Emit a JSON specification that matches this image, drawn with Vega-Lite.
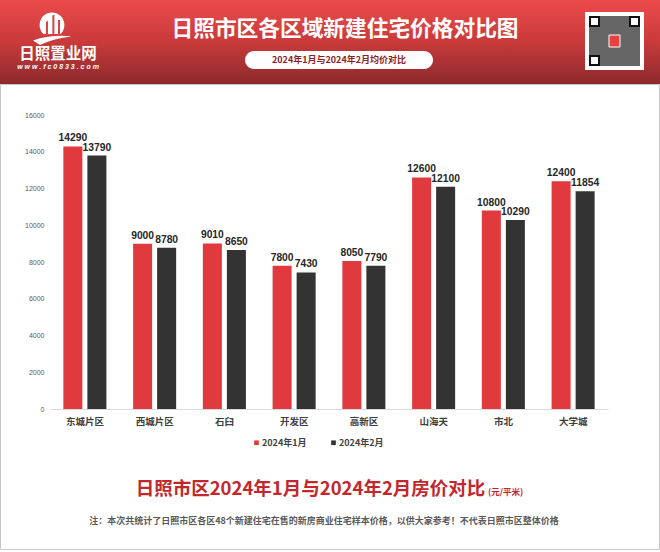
{
  "$schema": "https://vega.github.io/schema/vega-lite/v6.json",
  "width": 558,
  "height": 294,
  "autosize": {"type": "none"},
  "padding": {"left": 50, "top": 115, "right": 52, "bottom": 143},
  "background": "white",
  "config": {"view": {"stroke": null}, "font": "Noto Sans CJK SC", "axis": {"labelOverlap": false}},
  "datasets": {
    "prices": [
      {"district": "东城片区", "month": "2024年1月", "price": 14290},
      {"district": "东城片区", "month": "2024年2月", "price": 13790},
      {"district": "西城片区", "month": "2024年1月", "price": 9000},
      {"district": "西城片区", "month": "2024年2月", "price": 8780},
      {"district": "石臼", "month": "2024年1月", "price": 9010},
      {"district": "石臼", "month": "2024年2月", "price": 8650},
      {"district": "开发区", "month": "2024年1月", "price": 7800},
      {"district": "开发区", "month": "2024年2月", "price": 7430},
      {"district": "高新区", "month": "2024年1月", "price": 8050},
      {"district": "高新区", "month": "2024年2月", "price": 7790},
      {"district": "山海天", "month": "2024年1月", "price": 12600},
      {"district": "山海天", "month": "2024年2月", "price": 12100},
      {"district": "市北", "month": "2024年1月", "price": 10800},
      {"district": "市北", "month": "2024年2月", "price": 10290},
      {"district": "大学城", "month": "2024年1月", "price": 12400},
      {"district": "大学城", "month": "2024年2月", "price": 11854}
    ],
    "one": [{"k": 1}]
  },
  "layer": [
    {
      "data": {"name": "one"},
      "mark": {"type": "rect", "fill": "transparent", "stroke": "#c8c8c8", "strokeWidth": 1},
      "encoding": {"x": {"value": -49.5}, "x2": {"value": 609.5}, "y": {"value": -30.5}, "y2": {"value": 434.5}}
    },
    {
      "data": {"name": "one"},
      "mark": {"type": "rect", "fill": {"gradient": "linear", "x1": 0, "y1": 0, "x2": 0, "y2": 1, "stops": [{"offset": 0, "color": "#ec4b4b"}, {"offset": 0.5, "color": "#c93a3b"}, {"offset": 1, "color": "#8c2a2d"}]}},
      "encoding": {"x": {"value": -50}, "x2": {"value": 610}, "y": {"value": -115}, "y2": {"value": -31}}
    },
    {
      "data": {"name": "one"},
      "mark": {"type": "text", "text": "日照市区各区域新建住宅价格对比图", "align": "center", "baseline": "middle", "fontSize": 21.7, "fontWeight": "bold", "font": "Noto Sans CJK SC", "color": "white"},
      "encoding": {"x": {"value": 295}, "y": {"value": -86}}
    },
    {
      "data": {"name": "one"},
      "mark": {"type": "rect", "fill": "white", "cornerRadius": 9},
      "encoding": {"x": {"value": 195}, "x2": {"value": 383}, "y": {"value": -64}, "y2": {"value": -46}}
    },
    {
      "data": {"name": "one"},
      "mark": {"type": "text", "text": "2024年1月与2024年2月均价对比", "align": "center", "baseline": "middle", "fontSize": 9, "fontWeight": "bold", "font": "Noto Sans CJK SC", "color": "#8b1e24"},
      "encoding": {"x": {"value": 289}, "y": {"value": -55}}
    },
    {
      "data": {"name": "one"},
      "mark": {"type": "rect", "fill": "white"},
      "encoding": {"x": {"value": 535}, "x2": {"value": 594}, "y": {"value": -103}, "y2": {"value": -45}}
    },
    {
      "data": {"name": "one"},
      "mark": {"type": "rect", "fill": "#666666"},
      "encoding": {"x": {"value": 539}, "x2": {"value": 590}, "y": {"value": -99}, "y2": {"value": -49}}
    },
    {
      "data": {"name": "one"},
      "mark": {"type": "rect", "fill": "white", "stroke": "#111111", "strokeWidth": 2},
      "encoding": {"x": {"value": 540}, "x2": {"value": 549}, "y": {"value": -98}, "y2": {"value": -89}}
    },
    {
      "data": {"name": "one"},
      "mark": {"type": "rect", "fill": "white", "stroke": "#111111", "strokeWidth": 2},
      "encoding": {"x": {"value": 580}, "x2": {"value": 589}, "y": {"value": -98}, "y2": {"value": -89}}
    },
    {
      "data": {"name": "one"},
      "mark": {"type": "rect", "fill": "white", "stroke": "#111111", "strokeWidth": 2},
      "encoding": {"x": {"value": 540}, "x2": {"value": 549}, "y": {"value": -59}, "y2": {"value": -50}}
    },
    {
      "data": {"name": "one"},
      "mark": {"type": "rect", "fill": "#e8413f", "stroke": "white", "strokeWidth": 1},
      "encoding": {"x": {"value": 559}, "x2": {"value": 570}, "y": {"value": -80}, "y2": {"value": -68}}
    },
    {
      "data": {"name": "one"},
      "mark": {"type": "point", "filled": true, "fill": "white", "opacity": 1, "strokeWidth": 0, "size": 1600,
        "shape": "M -0.4265 0.3 A 0.62 0.62 0 1 1 0.4265 0.3 Z M -0.95 0.62 Q 0 0.3 0.98 0.42 Q 0.1 0.5 -0.6 0.85 Z"},
      "encoding": {"x": {"value": 2}, "y": {"value": -87}}
    },
    {
      "data": {"name": "one"},
      "mark": {"type": "point", "filled": true, "fill": "#d94343", "opacity": 1, "strokeWidth": 0, "size": 1600,
        "shape": "M -0.3 0.3 L -0.3 -0.3 L -0.2 -0.36 L -0.2 0.3 Z M 0.02 0.3 L 0.02 -0.62 L 0.12 -0.68 L 0.12 0.3 Z M 0.3 0.3 L 0.3 -0.4 L 0.4 -0.4 L 0.4 0.3 Z M -0.45 0.3 L 0.45 0.3 L 0.45 0.36 L -0.45 0.36 Z"},
      "encoding": {"x": {"value": 2}, "y": {"value": -87}}
    },
    {
      "data": {"name": "one"},
      "mark": {"type": "text", "text": "日照置业网", "align": "center", "baseline": "middle", "fontSize": 15.5, "fontWeight": "bold", "font": "Noto Sans CJK SC", "color": "white"},
      "encoding": {"x": {"value": 8}, "y": {"value": -61}}
    },
    {
      "data": {"name": "one"},
      "mark": {"type": "text", "text": "w w w . f c 0 8 3 3 . c o m", "align": "center", "baseline": "middle", "fontSize": 7, "fontWeight": "bold", "fontStyle": "italic", "font": "Liberation Sans", "color": "white"},
      "encoding": {"x": {"value": 8}, "y": {"value": -48}}
    },
    {
      "data": {"name": "prices"},
      "mark": {"type": "bar"},
      "encoding": {
        "x": {
          "field": "district", "type": "nominal", "sort": null,
          "scale": {"paddingInner": 0.383, "paddingOuter": 0.1915},
          "axis": {
            "title": "日照市区2024年1月与2024年2月房价对比",
            "titleFontSize": 18.5, "titleFont": "Noto Sans CJK SC", "titleFontWeight": "bold", "titleColor": "#c1272d",
            "titleX": 260, "titleY": 79, "titleBaseline": "middle", "titleAlign": "center",
            "labelAngle": 0, "ticks": false, "domainColor": "#d9d9d9", "domainWidth": 1,
            "labelFont": "Noto Sans CJK SC", "labelFontWeight": "bold", "labelFontSize": 9.5, "labelColor": "#404040", "labelPadding": 7
          }
        },
        "xOffset": {"field": "month", "type": "nominal", "scale": {"paddingInner": 0.208}},
        "y": {
          "field": "price", "type": "quantitative",
          "scale": {"domain": [0, 16000], "nice": false},
          "axis": {"title": null, "values": [0, 2000, 4000, 6000, 8000, 10000, 12000, 14000, 16000], "format": "d", "labelOverlap": false, "domain": false, "ticks": false, "grid": false, "labelFontSize": 7, "labelColor": "#595959", "labelFont": "Liberation Sans", "labelPadding": 6}
        },
        "color": {
          "field": "month", "type": "nominal",
          "scale": {"domain": ["2024年1月", "2024年2月"], "range": ["#e0393e", "#333333"]},
          "legend": {"title": null, "orient": "none", "legendX": 202, "legendY": 323, "direction": "horizontal", "symbolType": "square", "symbolSize": 22, "labelFontSize": 9, "labelFontWeight": "bold", "labelFont": "Noto Sans CJK SC", "labelColor": "#404040", "columnPadding": 22, "labelOffset": 1, "padding": 0}
        }
      }
    },
    {
      "data": {"name": "prices"},
      "mark": {"type": "text", "baseline": "bottom", "dy": -3, "font": "Liberation Sans", "fontWeight": "bold", "fontSize": 10.3, "color": "#262626"},
      "encoding": {
        "x": {"field": "district", "type": "nominal", "sort": null},
        "xOffset": {"field": "month", "type": "nominal"},
        "y": {
          "field": "price", "type": "quantitative",
          "axis": {"title": null, "values": [0, 2000, 4000, 6000, 8000, 10000, 12000, 14000, 16000], "format": "d", "labelOverlap": false, "domain": false, "ticks": false, "grid": false, "labelFontSize": 7, "labelColor": "#595959", "labelFont": "Liberation Sans", "labelPadding": 6}
        },
        "text": {"field": "price", "type": "quantitative", "format": "d"}
      }
    },
    {
      "data": {"name": "one"},
      "mark": {"type": "text", "text": "(元/平米)", "align": "left", "baseline": "middle", "fontSize": 8.5, "fontWeight": "bold", "font": "Noto Sans CJK SC", "color": "#c1272d"},
      "encoding": {"x": {"value": 438}, "y": {"value": 377}}
    },
    {
      "data": {"name": "one"},
      "mark": {"type": "text", "text": "注：本次共统计了日照市区各区48个新建住宅在售的新房商业住宅样本价格，以供大家参考！不代表日照市区整体价格", "align": "center", "baseline": "middle", "fontSize": 9, "fontWeight": "bold", "font": "Noto Sans CJK SC", "color": "#595959"},
      "encoding": {"x": {"value": 274}, "y": {"value": 406}}
    }
  ]
}
